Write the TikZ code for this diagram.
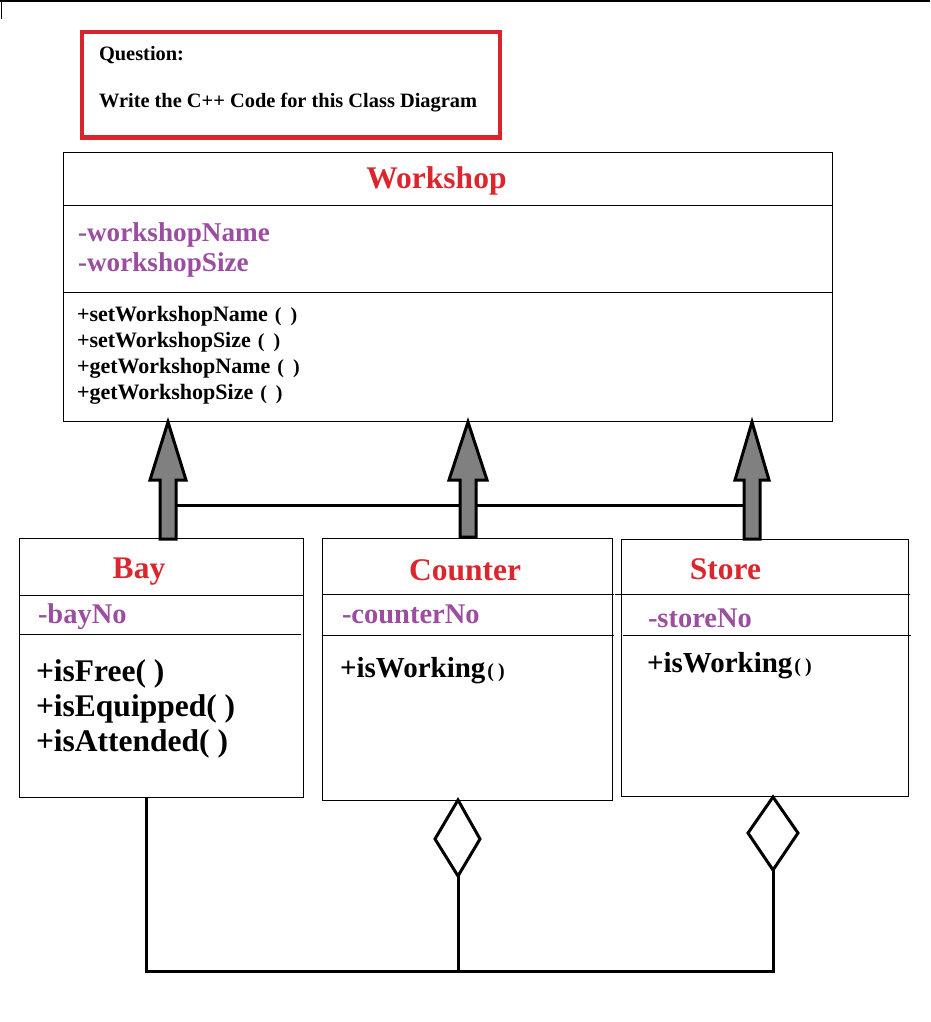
\documentclass[tikz,border=0pt]{standalone}
\usepackage{fontspec}
\setmainfont{Liberation Serif}
\usetikzlibrary{calc}
\definecolor{qred}{RGB}{218,36,44}
\definecolor{titlered}{RGB}{220,38,46}
\definecolor{attrpurple}{RGB}{155,78,160}
\definecolor{arrowgray}{RGB}{128,128,128}
\newcommand\fsz[1]{\fontsize{#1}{#1}\selectfont}
\newcommand\wpar{\hspace{7pt}{\fsz{20}(\hspace{9pt})}}
\newcommand\spar{\hspace{2pt}{\fsz{20}(\hspace{4pt})}}
\begin{document}
\begin{tikzpicture}[x=1pt,y=-1pt,
  txt/.style={anchor=base west, inner sep=0pt, outer sep=0pt},
  ttl/.style={anchor=base, inner sep=0pt, outer sep=0pt, text=titlered, font=\bfseries\fsz{31.5}},
  attr/.style={txt, text=attrpurple, font=\bfseries\fsz{28.5}},
  wattr/.style={txt, text=attrpurple, font=\bfseries\fsz{27.2}},
  wmeth/.style={txt, font=\bfseries\fsz{22}},
  bmeth/.style={txt, font=\bfseries\fsz{31.5}},
  smeth/.style={txt, font=\bfseries\fsz{29}},
  qtxt/.style={txt, font=\bfseries\fsz{20.4}},
  box/.style={draw=black, line width=1pt, inner sep=0pt, outer sep=0pt, anchor=north west},
  div/.style={line width=1pt},
  inh/.style={draw=black, fill=arrowgray, line width=3pt, line join=miter},
  conn/.style={line width=3pt, line join=miter},
  agg/.style={draw=black, fill=white, line width=3pt, line join=miter}]
\useasboundingbox (0,0) rectangle (930,1022);

% top frame remnants
\coordinate (tl) at (0,1.5);
\coordinate (tr) at (930,1.5);
\draw[line width=2pt] (tl) -- (tr);
\coordinate (tk1) at (1.5,1);
\coordinate (tk2) at (1.5,19);
\draw[line width=1pt] (tk1) -- (tk2);

% question box
\node[draw=qred, line width=4pt, minimum width=418pt, minimum height=105pt,
      anchor=north west, inner sep=0pt, outer sep=0pt] (qbox) at (81.5,32.5) {};
\node[qtxt] (q1) at (99,61) {Question:};
\node[qtxt] (q2) at (99,108) {Write the C++ Code for this Class Diagram};

% Workshop class
\node[box, minimum width=769pt, minimum height=269pt] (ws) at (63,152.5) {};
\draw[div] ($(ws.north west)+(0,52.5)$) -- ($(ws.north east)+(0,52.5)$);
\draw[div] ($(ws.north west)+(0,139.5)$) -- ($(ws.north east)+(0,139.5)$);
\node[ttl] (wsT) at (436.5,188) {Workshop};
\node[wattr] (wsA1) at (78,241.5) {-workshopName};
\node[wattr] (wsA2) at (78,271) {-workshopSize};
\node[wmeth] (wsM1) at (77,321.5) {+setWorkshopName\wpar};
\node[wmeth] (wsM2) at (77,347.5) {+setWorkshopSize\wpar};
\node[wmeth] (wsM3) at (77,373.5) {+getWorkshopName\wpar};
\node[wmeth] (wsM4) at (77,399.5) {+getWorkshopSize\wpar};

% Bay class
\node[box, minimum width=283.5pt, minimum height=258.5pt] (bay) at (19.5,538.5) {};
\draw[div] ($(bay.north west)+(0,57)$) -- ($(bay.north east)+(0,57)$);
\draw[div] ($(bay.north west)+(0,95.5)$) -- ($(bay.north east)+(-2,95.5)$);
\node[ttl] (bayT) at (139,578) {Bay};
\node[attr] (bayA) at (38,623) {-bayNo};
\node[bmeth] (bayM1) at (36,681.5) {+isFree( )};
\node[bmeth] (bayM2) at (36,716.5) {+isEquipped( )};
\node[bmeth] (bayM3) at (36,751.5) {+isAttended( )};

% Counter class
\node[box, minimum width=289.5pt, minimum height=261.5pt] (cnt) at (322.5,538.5) {};
\draw[div] ($(cnt.north west)+(0,56)$) -- ($(cnt.north east)+(1.5,56)$);
\draw[div] ($(cnt.north west)+(-1,96.5)$) -- ($(cnt.north east)+(1.5,96.5)$);
\node[ttl] (cntT) at (465,580) {Counter};
\node[attr] (cntA) at (342,623) {-counterNo};
\node[smeth] (cntM) at (340,677) {+isWorking\spar};

% Store class
\node[box, minimum width=287pt, minimum height=257pt] (sto) at (621.5,539) {};
\draw[div] ($(sto.north west)+(-6.5,55.5)$) -- ($(sto.north east)+(1.5,55.5)$);
\draw[div] ($(sto.north west)+(1.5,96)$) -- ($(sto.north east)+(2.5,96)$);
\node[ttl] (stoT) at (725.5,579) {Store};
\node[attr] (stoA) at (648,627) {-storeNo};
\node[smeth] (stoM) at (647,672) {+isWorking\spar};

% inheritance
\coordinate (hL) at (168,505);
\coordinate (hR) at (752,505);
\draw[conn] (hL) -- (hR);
\coordinate (inhL) at (168,539);
\coordinate (inhM) at (468,537);
\coordinate (inhR) at (752,539);
\draw[inh] (inhL) ++(-8,0) -- ++(0,-59) -- ++(-10,0) -- ++(18,-58) -- ++(18,58) -- ++(-10,0) -- ++(0,59) -- cycle;
\draw[inh] (inhM) ++(-8,0) -- ++(0,-57) -- ++(-11,0) -- ++(19,-58) -- ++(19,58) -- ++(-11,0) -- ++(0,57) -- cycle;
\draw[inh] (inhR) ++(-8,0) -- ++(0,-59) -- ++(-9,0) -- ++(17,-58) -- ++(17,58) -- ++(-9,0) -- ++(0,59) -- cycle;

% aggregation
\coordinate (bayB) at (146,797);
\coordinate (botL) at (146,971);
\coordinate (botM) at (458,971);
\coordinate (botR) at (773,971);
\coordinate (cntD) at (458,800);
\coordinate (cntDb) at (458,876);
\coordinate (stoD) at (773,797);
\coordinate (stoDb) at (773,870);
\draw[conn] (bayB) -- (botL) -- (botR) -- (stoDb);
\draw[conn] (botM) -- (cntDb);
\draw[agg] (cntD) -- ++(-23,39) -- ++(23,37) -- ++(22,-37) -- cycle;
\draw[agg] (stoD) -- ++(-25,36) -- ++(25,37) -- ++(25,-37) -- cycle;
\end{tikzpicture}
\end{document}
